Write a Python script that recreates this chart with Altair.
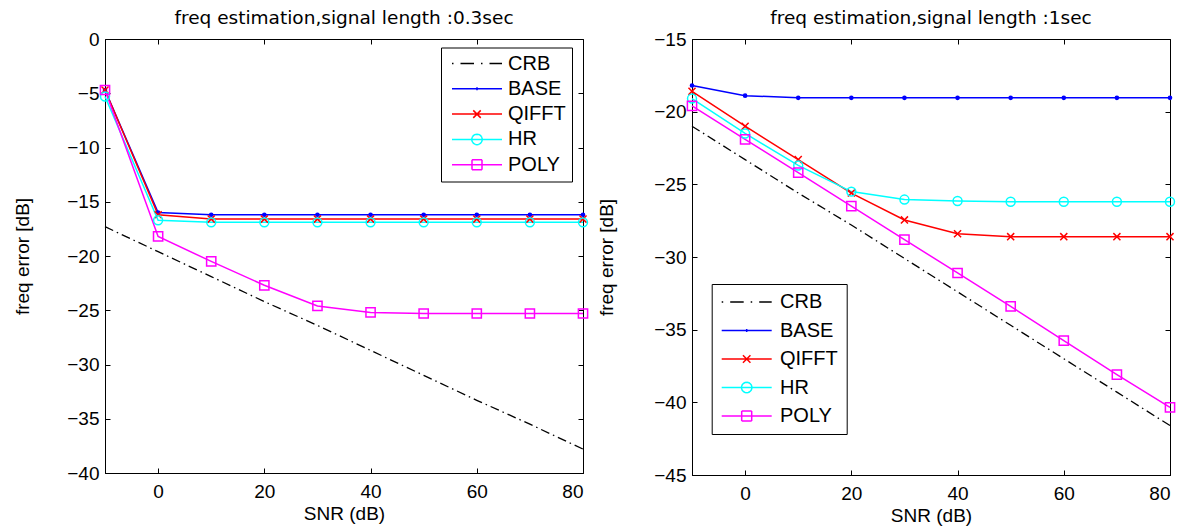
import math
import altair as alt
import pandas as pd

# ---------------- data ----------------
snr = [-10, 0, 10, 20, 30, 40, 50, 60, 70, 80]
series = ["CRB", "BASE", "QIFFT", "HR", "POLY"]
colors = ["#000000", "#0000FF", "#FF0000", "#00FFFF", "#FF00FF"]

# signal length 0.3 sec
crb_a = [-17.3, -19.6, -21.9, -24.2, -26.4, -28.7, -31.0, -33.3, -35.5, -37.8]
base_a = [-4.7, -16.0, -16.2, -16.2, -16.2, -16.2, -16.2, -16.2, -16.2, -16.2]
qifft_a = [-4.7, -16.2, -16.6, -16.6, -16.6, -16.6, -16.6, -16.6, -16.6, -16.6]
hr_a = [-5.3, -16.7, -16.9, -16.9, -16.9, -16.9, -16.9, -16.9, -16.9, -16.9]
poly_a = [-4.7, -18.2, -20.5, -22.7, -24.6, -25.2, -25.3, -25.3, -25.3, -25.3]

# signal length 1 sec
crb_b = [-21.0, -23.3, -25.6, -27.8, -30.1, -32.4, -34.7, -37.0, -39.3, -41.6]
base_b = [-18.2, -18.9, -19.05, -19.05, -19.05, -19.05, -19.05, -19.05, -19.05, -19.05]
qifft_b = [-18.6, -21.0, -23.3, -25.6, -27.45, -28.4, -28.6, -28.6, -28.6, -28.6]
hr_b = [-19.1, -21.5, -23.7, -25.5, -26.05, -26.15, -26.2, -26.2, -26.2, -26.2]
poly_b = [-19.6, -21.9, -24.2, -26.5, -28.8, -31.1, -33.4, -35.75, -38.1, -40.35]

x_ticks = [0, 20, 40, 60, 80]
y_ticks_a = [-40, -35, -30, -25, -20, -15, -10, -5, 0]
y_ticks_b = [-45, -40, -35, -30, -25, -20, -15]

# marker styles (plot)
marker_shape = {"BASE": "circle", "QIFFT": "M-1,-1L1,1M-1,1L1,-1",
                "HR": "circle", "POLY": "square"}
marker_size = {"BASE": 10, "QIFFT": 50, "HR": 80, "POLY": 85}
marker_fill = {"BASE": "#0000FF", "QIFFT": "transparent",
               "HR": "transparent", "POLY": "transparent"}


# legend symbols: line segment + marker, drawn only with open segments
# (1 unit = 5px, line 50px long)
def ring(r, n=20):
    pts = [(r * math.cos(2 * math.pi * i / n), r * math.sin(2 * math.pi * i / n))
           for i in range(n + 1)]
    return "".join(f"M{pts[i][0]:.3f},{pts[i][1]:.3f}L{pts[i+1][0]:.3f},{pts[i+1][1]:.3f}"
                   for i in range(n))


legend_paths = [
    "M-5,0H-4.7M-3.3,0H-0.6M0.8,0H1.1M2.5,0H5",
    "M-5,0H5M-0.3,0H0.3M0,-0.3V0.3",
    "M-5,0H5M-0.75,-0.75L0.75,0.75M-0.75,0.75L0.75,-0.75",
    "M-5,0H5" + ring(1.05),
    "M-5,0H5M-1,-1H1M1,-1V1M1,1H-1M-1,1V-1",
]

FONT = "Liberation Sans"
TFONT = "DejaVu Sans"
W = 478


def panel(title, crb, others, ydom, yticks, height, leg, ytp):
    crb_df = pd.DataFrame({"snr": snr, "err": crb})
    rows = []
    for name, vals in zip(series[1:], others):
        for s, v in zip(snr, vals):
            rows.append({"snr": s, "err": v, "series": name,
                         "color": colors[series.index(name)],
                         "shape": marker_shape[name], "size": marker_size[name],
                         "fill": marker_fill[name]})
    df = pd.DataFrame(rows)

    xenc = alt.X("snr:Q", scale=alt.Scale(domain=[-10, 80], nice=False),
                 axis=alt.Axis(values=x_ticks, title="SNR (dB)",
                               gridDash=[5, height - 10, 5]))
    yenc = alt.Y("err:Q", scale=alt.Scale(domain=ydom, nice=False),
                 axis=alt.Axis(values=yticks, title="freq error [dB]",
                               titlePadding=ytp, gridDash=[5, W - 10, 5]))

    crb_line = alt.Chart(crb_df).mark_line(
        color="black", strokeWidth=1.3, strokeDash=[9, 4, 1.5, 4]
    ).encode(x=xenc, y=yenc)

    lines = alt.Chart(df).mark_line(strokeWidth=1.5).encode(
        x="snr:Q", y="err:Q",
        stroke=alt.Stroke("color:N", scale=None),
        detail="series:N",
    )
    pts = alt.Chart(df).mark_point(filled=False, strokeWidth=1.5, opacity=1).encode(
        x="snr:Q", y="err:Q",
        stroke=alt.Stroke("color:N", scale=None),
        fill=alt.Fill("fill:N", scale=None),
        shape=alt.Shape("shape:N", scale=None),
        size=alt.Size("size:Q", scale=None),
    )

    legend = alt.Legend(
        title=None, orient="none", legendX=leg["x"], legendY=leg["y"],
        padding=leg["pad"], rowPadding=leg["row"], symbolOffset=leg["so"],
        labelOffset=leg["lo"], symbolSize=100, symbolStrokeWidth=1.5,
        symbolFillColor="transparent", symbolOpacity=1, labelFont=FONT,
        labelFontSize=20, labelColor="black", strokeColor="black",
        fillColor="white", labelLimit=0,
    )
    leg_df = pd.DataFrame({"series": series, "snr": snr[:5], "err": crb[:5]})
    leg_layer = alt.Chart(leg_df).mark_point(filled=False).encode(
        x="snr:Q", y="err:Q",
        color=alt.Color("series:N", sort=series,
                        scale=alt.Scale(domain=series, range=colors),
                        legend=legend),
        shape=alt.Shape("series:N", sort=series,
                        scale=alt.Scale(domain=series, range=legend_paths),
                        legend=legend),
    ).transform_filter("datum.snr > 1000")

    return alt.layer(crb_line, lines, pts, leg_layer).properties(
        width=W, height=height,
        title=alt.TitleParams(title, fontSize=18.5, font=TFONT, fontWeight="normal",
                              color="black", anchor="middle", offset=2.5,
                              frame="group"),
    )


left = panel("freq estimation,signal length :0.3sec", crb_a,
             [base_a, qifft_a, hr_a, poly_a], [-40, 0], y_ticks_a, 434,
             {"x": 336, "y": 8.5, "pad": 6, "row": 5.3, "so": 20, "lo": 21}, 34)
right = panel("freq estimation,signal length :1sec", crb_b,
              [base_b, qifft_b, hr_b, poly_b], [-45, -15], y_ticks_b, 436,
              {"x": 19.7, "y": 245, "pad": 8, "row": 8.5, "so": 17, "lo": 23.3}, 37)

chart = alt.hconcat(left, right, spacing=5).resolve_scale(
    color="independent", shape="independent"
).resolve_legend(color="independent", shape="independent").properties(
    padding={"left": 5, "top": 0, "right": 0, "bottom": 0}
).configure_view(stroke="black", strokeWidth=1).configure_axis(
    domainColor="black", domainWidth=1, ticks=False, grid=True,
    gridColor="black", gridOpacity=1, gridWidth=1,
    labelFont=FONT, labelFontSize=19, labelColor="black", labelPadding=6,
    titleFont=FONT, titleFontSize=19, titleFontWeight="normal", titleColor="black",
).configure_axisX(titlePadding=3, labelPadding=9)

chart.save("out.html", embed_options={"renderer": "svg", "actions": False})
